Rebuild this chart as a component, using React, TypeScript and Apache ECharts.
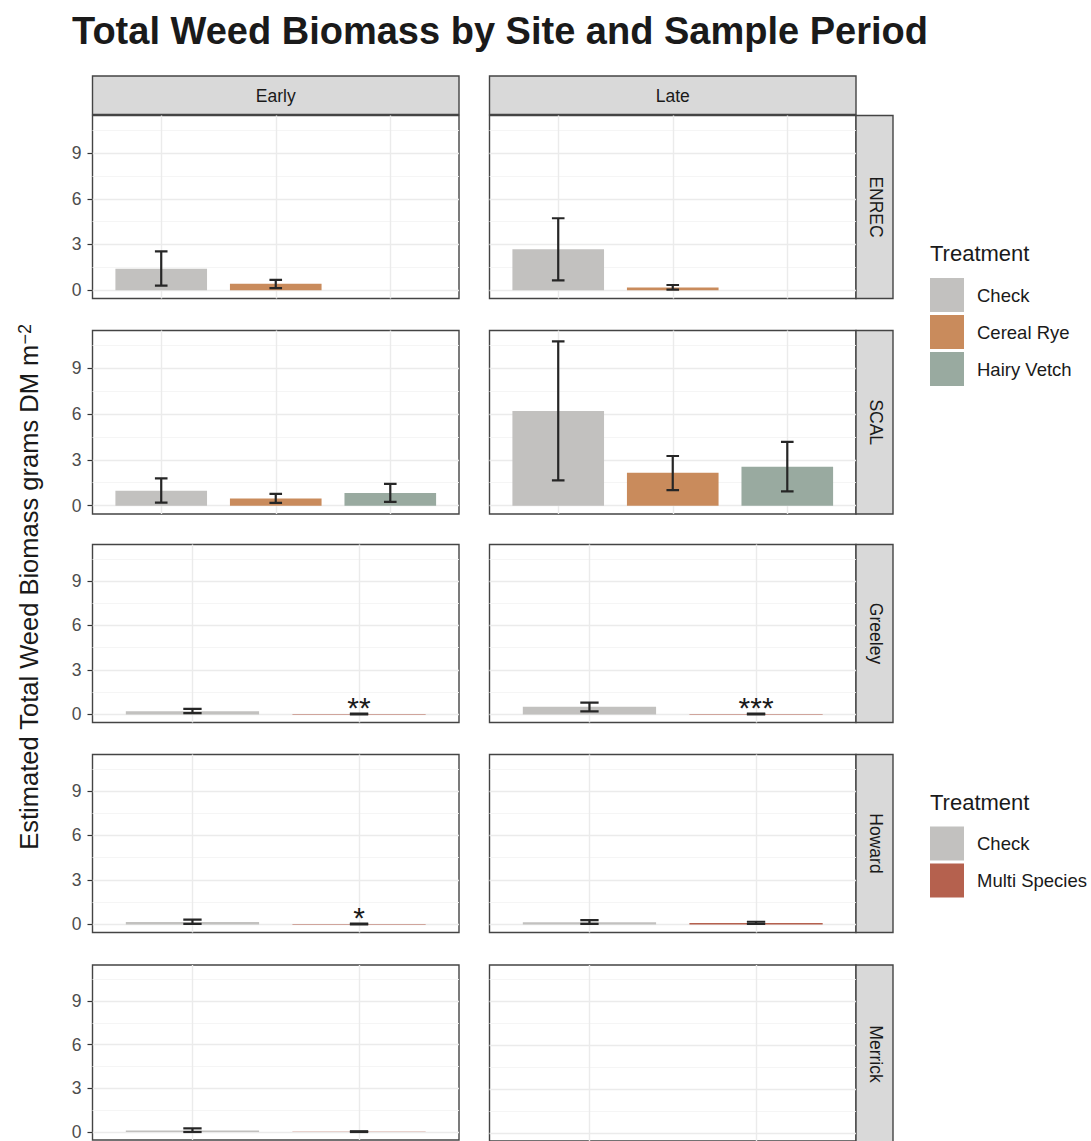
import React, { useEffect, useRef } from "react";
import * as echarts from "echarts";

const FONT = "'Liberation Sans', Arial, Helvetica, sans-serif";

// ---------- text ----------
const chartTitle = "Total Weed Biomass by Site and Sample Period";
const yAxisTitle = "Estimated Total Weed Biomass grams DM m";
const yAxisTitleSup = "\u22122";
const legendTitle = "Treatment";

// ---------- categories ----------
const periods = ["Early", "Late"];
const sites = ["ENREC", "SCAL", "Greeley", "Howard", "Merrick"];
const treatmentsA = ["Check", "Cereal Rye", "Hairy Vetch"];
const treatmentsB = ["Check", "Multi Species"];
const allTreatments = ["Check", "Cereal Rye", "Hairy Vetch", "Multi Species"];
const treatmentColors = ["#c2c1bf", "#c98b5c", "#99aaa0", "#b5614e"];

// ---------- axis ticks ----------
const yTickValues = [0, 3, 6, 9];
const yMinorValues = [1.5, 4.5, 7.5, 10.5];
const yLimits = [-0.546, 11.466];

// ---------- values: [mean, lower, upper] per treatment (null = not sampled) ----------
const enrecEarly = [[1.4, 0.3, 2.55], [0.42, 0.13, 0.67], null];
const enrecLate = [[2.68, 0.65, 4.72], [0.17, 0.04, 0.34], null];
const scalEarly = [[0.98, 0.2, 1.78], [0.47, 0.18, 0.77], [0.83, 0.25, 1.43]];
const scalLate = [[6.19, 1.65, 10.75], [2.15, 1.02, 3.25], [2.55, 0.93, 4.17]];
const greeleyEarly = [[0.21, 0.08, 0.38], [0.02, 0.0, 0.05]];
const greeleyLate = [[0.52, 0.2, 0.8], [0.02, 0.0, 0.05]];
const howardEarly = [[0.17, 0.03, 0.32], [0.02, 0.0, 0.05]];
const howardLate = [[0.15, 0.03, 0.29], [0.09, 0.03, 0.18]];
const merrickEarly = [[0.1, 0.0, 0.25], [0.02, 0.0, 0.05]];
const merrickLate = [null, null];

// ---------- significance labels ----------
const greeleyEarlySig = ["", "**"];
const greeleyLateSig = ["", "***"];
const howardEarlySig = ["", "*"];
const noSig = ["", "", ""];

const panelValues = [
  [enrecEarly, enrecLate],
  [scalEarly, scalLate],
  [greeleyEarly, greeleyLate],
  [howardEarly, howardLate],
  [merrickEarly, merrickLate],
];
const panelSig = [
  [noSig, noSig],
  [noSig, noSig],
  [greeleyEarlySig, greeleyLateSig],
  [howardEarlySig, noSig],
  [noSig, noSig],
];
const rowTreatments = [treatmentsA, treatmentsA, treatmentsB, treatmentsB, treatmentsB];

// ---------- layout ----------
const COL_LEFT = [92.5, 489.5];
const COL_W = 366.5;
const ROW_TOP = [115.5, 330.5, 544.5, 754.5, 965];
const ROW_H = [183, 183.5, 178, 178, 178];
const STRIP_TOP = 76;
const STRIP_H = 38.5;
const STRIP_R_X = 856;
const STRIP_R_W = 37;

const colorOf = (name: string) => treatmentColors[allTreatments.indexOf(name)];

function makeRender(sig: string) {
  return (params: any, api: any) => {
    const x = api.value(0);
    const m = api.value(1);
    const lo = api.value(2);
    const hi = api.value(3);
    const tl = api.coord([x - 0.4, m]);
    const br = api.coord([x + 0.4, 0]);
    const top = api.coord([x, hi]);
    const bot = api.coord([x, lo]);
    const capHalf = api.size([0.055, 0])[0];
    const color = api.visual("color");
    const stroke = "#262626";
    const lw = 2.2;
    const children: any[] = [
      {
        type: "rect",
        shape: {
          x: tl[0],
          y: Math.min(tl[1], br[1]),
          width: br[0] - tl[0],
          height: Math.abs(br[1] - tl[1]),
        },
        style: { fill: color },
      },
      { type: "line", shape: { x1: top[0], y1: top[1], x2: bot[0], y2: bot[1] }, style: { stroke, lineWidth: lw } },
      { type: "line", shape: { x1: top[0] - capHalf, y1: top[1], x2: top[0] + capHalf, y2: top[1] }, style: { stroke, lineWidth: lw } },
      { type: "line", shape: { x1: bot[0] - capHalf, y1: bot[1], x2: bot[0] + capHalf, y2: bot[1] }, style: { stroke, lineWidth: lw } },
    ];
    if (sig) {
      children.push({
        type: "text",
        x: top[0],
        y: top[1] - 6,
        style: {
          text: sig,
          fontSize: 30,
          fontFamily: FONT,
          fill: "#1a1a1a",
          align: "center",
          verticalAlign: "middle",
        },
      });
    }
    return { type: "group", children };
  };
}

function buildOption() {
  const grids: any[] = [];
  const xAxes: any[] = [];
  const yAxes: any[] = [];
  const series: any[] = [];
  let gi = 0;
  for (let r = 0; r < sites.length; r++) {
    const trts = rowTreatments[r];
    const ticksX = trts.map((_, k) => k + 1);
    for (let c = 0; c < periods.length; c++) {
      grids.push({
        left: COL_LEFT[c],
        top: ROW_TOP[r],
        width: COL_W,
        height: ROW_H[r],
        show: true,
        backgroundColor: "#ffffff",
        borderColor: "#444444",
        borderWidth: 1.4,
      });
      xAxes.push({
        gridIndex: gi,
        type: "value",
        min: 0.4,
        max: trts.length + 0.6,
        axisLine: { show: false },
        axisTick: { show: false, customValues: ticksX },
        axisLabel: { show: false, customValues: ticksX },
        splitLine: { show: true, lineStyle: { color: "#ebebeb", width: 1.4 } },
      });
      const showLab = c === 0;
      yAxes.push({
        gridIndex: gi,
        type: "value",
        min: yLimits[0],
        max: yLimits[1],
        axisLine: { show: false },
        axisTick: {
          show: showLab,
          customValues: yTickValues,
          length: 5,
          lineStyle: { color: "#333333", width: 1.2 },
        },
        axisLabel: {
          show: showLab,
          customValues: yTickValues,
          margin: 11,
          fontSize: 17.5,
          fontFamily: FONT,
          color: "#4d4d4d",
        },
        splitLine: { show: true, lineStyle: { color: "#ebebeb", width: 1.4 } },
      });
      yAxes.push({
        gridIndex: gi,
        type: "value",
        position: "left",
        min: yLimits[0],
        max: yLimits[1],
        axisLine: { show: false },
        axisTick: { show: false, customValues: yMinorValues },
        axisLabel: { show: false, customValues: yMinorValues },
        splitLine: { show: true, lineStyle: { color: "#f4f4f4", width: 0.9 } },
      });
      const vals = panelValues[r][c];
      const sigs = panelSig[r][c];
      trts.forEach((t, k) => {
        const v = vals[k];
        if (!v) return;
        series.push({
          type: "custom",
          name: t,
          xAxisIndex: gi,
          yAxisIndex: gi * 2,
          itemStyle: { color: colorOf(t) },
          encode: { x: 0, y: 1 },
          clip: true,
          z: 3,
          data: [[k + 1, v[0], v[1], v[2]]],
          renderItem: makeRender(sigs[k] || ""),
        });
      });
      gi++;
    }
  }

  const graphics: any[] = [];
  graphics.push({
    type: "text",
    x: 72,
    y: 31,
    style: {
      text: chartTitle,
      fontSize: 38,
      fontWeight: "bold",
      fontFamily: FONT,
      fill: "#1a1a1a",
      align: "left",
      verticalAlign: "middle",
    },
  });
  for (let c = 0; c < periods.length; c++) {
    graphics.push({
      type: "rect",
      shape: { x: COL_LEFT[c], y: STRIP_TOP, width: COL_W, height: STRIP_H },
      style: { fill: "#d9d9d9", stroke: "#444444", lineWidth: 1.4 },
    });
    graphics.push({
      type: "text",
      x: COL_LEFT[c] + COL_W / 2,
      y: STRIP_TOP + STRIP_H / 2 + 1,
      style: {
        text: periods[c],
        fontSize: 17.5,
        fontFamily: FONT,
        fill: "#1a1a1a",
        align: "center",
        verticalAlign: "middle",
      },
    });
  }
  for (let r = 0; r < sites.length; r++) {
    graphics.push({
      type: "rect",
      shape: { x: STRIP_R_X, y: ROW_TOP[r], width: STRIP_R_W, height: ROW_H[r] },
      style: { fill: "#d9d9d9", stroke: "#444444", lineWidth: 1.4 },
    });
    graphics.push({
      type: "text",
      x: STRIP_R_X + STRIP_R_W / 2 + 1,
      y: ROW_TOP[r] + ROW_H[r] / 2,
      rotation: -Math.PI / 2,
      style: {
        text: sites[r],
        fontSize: 17.5,
        fontFamily: FONT,
        fill: "#1a1a1a",
        align: "center",
        verticalAlign: "middle",
      },
    });
  }
  graphics.push({
    type: "text",
    x: 29,
    y: 587,
    rotation: Math.PI / 2,
    style: {
      text: `{a|${yAxisTitle}}{s|${yAxisTitleSup}}`,
      rich: {
        a: { fontSize: 25.5, fontFamily: FONT, fill: "#1a1a1a" },
        s: { fontSize: 18, fontFamily: FONT, fill: "#1a1a1a", verticalAlign: "top" },
      },
      align: "center",
      verticalAlign: "middle",
    },
  });
  [253.5, 802].forEach((y) => {
    graphics.push({
      type: "text",
      x: 930,
      y,
      style: {
        text: legendTitle,
        fontSize: 22,
        fontFamily: FONT,
        fill: "#1a1a1a",
        align: "left",
        verticalAlign: "middle",
      },
    });
  });

  const legendBase = {
    orient: "vertical",
    left: 930,
    itemWidth: 34,
    itemHeight: 34,
    itemGap: 3,
    icon: "rect",
    selectedMode: false,
    padding: 0,
    textStyle: { fontSize: 18.5, fontFamily: FONT, color: "#1a1a1a", padding: [0, 0, 0, 8] },
  };

  return {
    animation: false,
    backgroundColor: "#ffffff",
    grid: grids,
    xAxis: xAxes,
    yAxis: yAxes,
    series,
    legend: [
      { ...legendBase, top: 278, data: treatmentsA },
      { ...legendBase, top: 826.5, data: treatmentsB },
    ],
    graphic: graphics,
  };
}

export default function App() {
  const ref = useRef<HTMLDivElement>(null);
  useEffect(() => {
    document.body.style.margin = "0";
    document.body.style.overflow = "hidden";
    const chart = echarts.init(ref.current!, undefined, { renderer: "svg" });
    chart.setOption(buildOption() as any);
    return () => chart.dispose();
  }, []);
  return <div ref={ref} style={{ width: 1091, height: 1141 }} />;
}
